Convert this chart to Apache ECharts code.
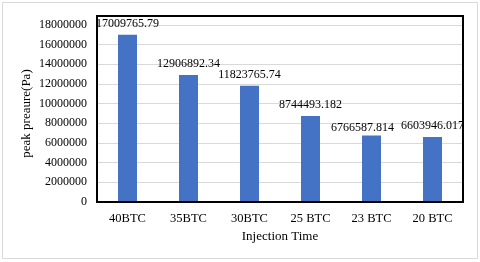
<!DOCTYPE html>
<html><head><meta charset="utf-8">
<script src="https://cdn.jsdelivr.net/npm/echarts@6/dist/echarts.min.js"></script>
<style>html,body{margin:0;padding:0;background:#fff}#c{width:480px;height:262px}</style>
</head><body><div id="c"></div>
<script>
var categories = ['40BTC','35BTC','30BTC','25 BTC','23 BTC','20 BTC'];
var values = [17009765.79, 12906892.34, 11823765.74, 8744493.182, 6766587.814, 6603946.017];
var labels = ['17009765.79','12906892.34','11823765.74','8744493.182','6766587.814','6603946.017'];
var yTicks = [0,2000000,4000000,6000000,8000000,10000000,12000000,14000000,16000000,18000000];

var chart = echarts.init(document.getElementById('c'), null, {renderer:'canvas'});
var font = 'Liberation Serif';
var barData = values.map(function(v,i){
  var d = {value:v};
  if (i === 4) d.label = {offset:[-9,3]};
  return d;
});
chart.setOption({
  animation:false,
  textStyle:{fontFamily:font},
  graphic:[
    {type:'rect',shape:{x:2.5,y:2.5,width:475,height:256},style:{fill:'none',stroke:'#d9d9d9',lineWidth:1}},
    {type:'rect',shape:{x:97,y:16,width:366,height:186},style:{fill:'none',stroke:'#000',lineWidth:2},z:10}
  ],
  grid:{left:97,right:17,top:25,bottom:60},
  xAxis:{type:'category',data:categories,
    name:'Injection Time',nameLocation:'middle',nameGap:27,
    nameTextStyle:{fontFamily:font,fontSize:13,color:'#000'},
    axisLine:{lineStyle:{color:'#000',width:2}},axisTick:{show:false},
    axisLabel:{fontFamily:font,fontSize:12.5,color:'#000',margin:10}},
  yAxis:{type:'value',min:yTicks[0],max:yTicks[yTicks.length-1],interval:2000000,
    name:'peak preaure(Pa)',nameLocation:'middle',nameGap:64,nameMoveOverlap:false,
    nameTextStyle:{fontFamily:font,fontSize:13,color:'#000'},
    axisLine:{show:false},axisTick:{show:false},
    splitLine:{lineStyle:{color:'#d9d9d9',width:1}},
    axisLabel:{fontFamily:font,fontSize:12,color:'#000',margin:10,
      formatter:function(v){return String(v);}}},
  series:[{type:'bar',data:barData,barWidth:19,
    itemStyle:{color:'#4472C4'},
    label:{show:true,position:'top',distance:5,fontFamily:font,fontSize:12,color:'#000',
      formatter:function(p){return labels[p.dataIndex];}}}]
});
</script></body></html>
